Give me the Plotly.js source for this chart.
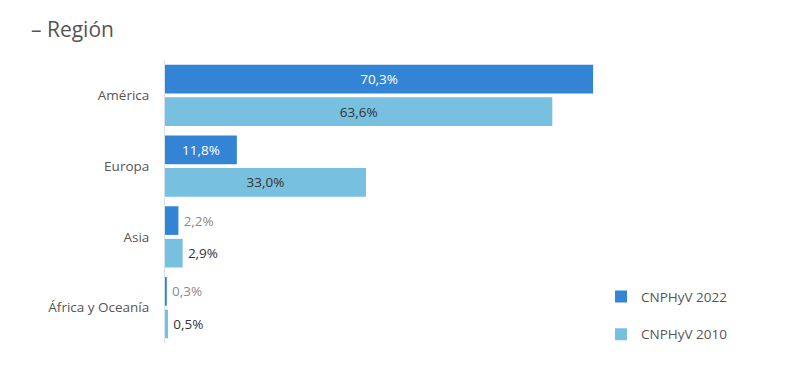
<!DOCTYPE html>
<html><head><meta charset="utf-8">
<script src="https://cdn.plot.ly/plotly-3.0.1.min.js"></script>
<style>html,body{margin:0;padding:0;background:#fff}#c{width:800px;height:372px}</style>
</head><body><div id="c"></div>
<script>
const categories = ["América", "Europa", "Asia", "África y Oceanía"];
const values2022 = [70.3, 11.8, 2.2, 0.3];
const values2010 = [63.6, 33.0, 2.9, 0.5];
const seriesNames = ["CNPHyV 2022", "CNPHyV 2010"];

const fmt = v => v.toFixed(1).replace('.', ',') + '%';
const insideThreshold = 8;

function mk(vals, name, color, inColor, outColor, grp) {
  return {
    type: 'bar', orientation: 'h', name: name, legendgroup: grp,
    x: vals, y: categories,
    marker: {color: color},
    text: vals.map(v => v > insideThreshold ? fmt(v) : '\u2009' + fmt(v)),
    textposition: vals.map(v => v > insideThreshold ? 'inside' : 'outside'),
    insidetextanchor: 'middle',
    textfont: {family: 'Open Sans', size: 13.5, color: vals.map(v => v > insideThreshold ? inColor : outColor)},
    cliponaxis: false,
    hoverinfo: 'none'
  };
}

const data = [
  mk(values2022, seriesNames[0], '#3384d5', '#ffffff', '#8a8a8a', 'a'),
  mk(values2010, seriesNames[1], '#78c0df', '#333333', '#333333', 'b')
];

const layout = {
  width: 800, height: 372,
  margin: {l: 165, r: 26, t: 60, b: 29},
  paper_bgcolor: '#fff', plot_bgcolor: '#fff',
  font: {family: 'Open Sans', color: '#555'},
  title: {text: '– Región', x: 31 / 800, xref: 'container', xanchor: 'left', y: 1 - 30 / 372, yref: 'container', yanchor: 'middle', font: {family: 'Open Sans', size: 21, color: '#555'}},
  barmode: 'group', bargap: 0.08, bargroupgap: 0.12,
  xaxis: {range: [0, 100], visible: false, fixedrange: true},
  yaxis: {autorange: 'reversed', showline: true, linecolor: '#d6e3ea', linewidth: 1, showgrid: false, ticks: '', ticklabelstandoff: 12, tickfont: {family: 'Open Sans', size: 13.5, color: '#555'}},
  showlegend: true,
  legend: {x: 0.716, xanchor: 'left', y: 0.218, yanchor: 'top', traceorder: 'grouped', tracegroupgap: 17, font: {family: 'Open Sans', size: 13.5, color: '#555'}, itemwidth: 30}
};

Plotly.newPlot('c', data, layout, {displayModeBar: false, staticPlot: true});
</script></body></html>
